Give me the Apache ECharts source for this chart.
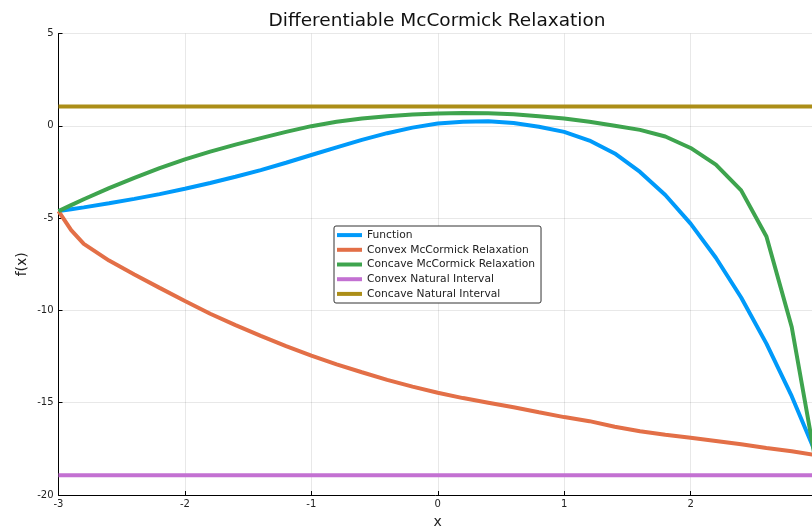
<!DOCTYPE html>
<html>
<head>
<meta charset="utf-8">
<title>Differentiable McCormick Relaxation</title>
<script src="https://cdn.jsdelivr.net/npm/echarts@6/dist/echarts.min.js"></script>
<style>
  html, body { margin: 0; padding: 0; background: #ffffff; }
  #chart { width: 812px; height: 527px; }
</style>
</head>
<body>
<div id="chart"></div>
<script>
// Sample points on x
const xs = [-3.0, -2.9, -2.8, -2.6, -2.4, -2.2, -2.0, -1.8, -1.6, -1.4, -1.2, -1.0,
            -0.8, -0.6, -0.4, -0.2, 0.0, 0.2, 0.4, 0.6, 0.8, 1.0,
            1.2, 1.4, 1.6, 1.8, 2.0, 2.2, 2.4, 2.6, 2.8, 3.0];

// Original function
const functionVals = [-4.62, -4.52, -4.42, -4.20, -3.96, -3.70, -3.41, -3.10, -2.76, -2.40, -2.00, -1.58,
                      -1.17, -0.76, -0.40, -0.10, 0.12, 0.22, 0.24, 0.15, -0.05, -0.33,
                      -0.80, -1.50, -2.50, -3.75, -5.30, -7.15, -9.30, -11.80, -14.65, -17.90];

// Convex McCormick relaxation (under-estimator)
const convexVals = [-4.62, -5.65, -6.40, -7.30, -8.05, -8.78, -9.49, -10.18, -10.80, -11.38, -11.93, -12.45,
                    -12.92, -13.35, -13.76, -14.13, -14.46, -14.75, -15.00, -15.25, -15.52, -15.78,
                    -16.00, -16.30, -16.55, -16.74, -16.90, -17.07, -17.25, -17.45, -17.63, -17.85];

// Concave McCormick relaxation (over-estimator)
const concaveVals = [-4.62, -4.30, -3.98, -3.38, -2.82, -2.29, -1.82, -1.40, -1.02, -0.67, -0.33, -0.02,
                     0.22, 0.40, 0.52, 0.61, 0.66, 0.70, 0.68, 0.62, 0.52, 0.40,
                     0.22, 0.00, -0.22, -0.58, -1.20, -2.10, -3.50, -6.00, -10.90, -18.60];

// Natural interval bounds (constant over the domain)
const intervalX = [-3, 3];
const convexNatural = [-18.93, -18.93];
const concaveNatural = [1.05, 1.05];

// Axis ticks
const xTicks = [-3, -2, -1, 0, 1, 2, 3];
const yTicks = [-20, -15, -10, -5, 0, 5];

const seriesNames = ['Function', 'Convex McCormick Relaxation', 'Concave McCormick Relaxation',
                     'Convex Natural Interval', 'Concave Natural Interval'];
const palette = ['#009AFA', '#E36F47', '#3EA44E', '#C371D2', '#AC8E18'];

const pairs = (x, y) => x.map((v, i) => [v, y[i]]);

const chart = echarts.init(document.getElementById('chart'), null, { renderer: 'canvas' });

const lineSeries = (name, data, color) => ({
  name: name,
  type: 'line',
  data: data,
  showSymbol: false,
  symbol: 'none',
  smooth: false,
  clip: true,
  lineStyle: { width: 4, color: color },
  itemStyle: { color: color },
  emphasis: { disabled: true }
});

const axisFont = { fontFamily: 'DejaVu Sans', fontSize: 10, color: '#222' };

chart.setOption({
  animation: false,
  backgroundColor: '#ffffff',
  color: palette,
  title: {
    text: 'Differentiable McCormick Relaxation',
    left: 432,
    top: 7,
    textAlign: 'center',
    textStyle: { fontFamily: 'DejaVu Sans', fontSize: 18.5, fontWeight: 'normal', color: '#111' }
  },
  grid: {
    left: 58.5, top: 33.5, width: 758.5, height: 461.5,
    containLabel: false,
    outerBoundsMode: 'none'
  },
  legend: {
    orient: 'vertical',
    left: 334,
    top: 226,
    icon: 'rect',
    itemWidth: 25,
    itemHeight: 4,
    itemGap: 2.5,
    padding: [3, 6, 3, 3],
    backgroundColor: '#ffffff',
    borderColor: '#333',
    borderWidth: 1,
    borderRadius: 2,
    selectedMode: false,
    textStyle: { fontFamily: 'DejaVu Sans', fontSize: 10.7, color: '#222', lineHeight: 12.2 },
    data: seriesNames
  },
  xAxis: {
    type: 'value',
    min: xTicks[0],
    max: xTicks[xTicks.length - 1],
    interval: 1,
    name: 'x',
    nameLocation: 'middle',
    nameGap: 20,
    nameMoveOverlap: false,
    nameTextStyle: { fontFamily: 'DejaVu Sans', fontSize: 14, color: '#222' },
    axisLine: { show: true, onZero: false, lineStyle: { color: '#000', width: 1 } },
    axisTick: { show: true, inside: true, length: 4, lineStyle: { color: '#000' } },
    axisLabel: { ...axisFont, margin: 4, showMaxLabel: true, showMinLabel: true },
    splitLine: { show: true, lineStyle: { color: 'rgba(0,0,0,0.09)', width: 1 } }
  },
  yAxis: {
    type: 'value',
    min: yTicks[0],
    max: yTicks[yTicks.length - 1],
    interval: 5,
    name: 'f(x)',
    nameLocation: 'middle',
    nameRotate: 90,
    nameGap: 29,
    nameMoveOverlap: false,
    nameTextStyle: { fontFamily: 'DejaVu Sans', fontSize: 14, color: '#222' },
    axisLine: { show: true, onZero: false, lineStyle: { color: '#000', width: 1 } },
    axisTick: { show: true, inside: true, length: 4, lineStyle: { color: '#000' } },
    axisLabel: { ...axisFont, margin: 5 },
    splitLine: { show: true, lineStyle: { color: 'rgba(0,0,0,0.09)', width: 1 } }
  },
  series: [
    lineSeries(seriesNames[0], pairs(xs, functionVals), palette[0]),
    lineSeries(seriesNames[1], pairs(xs, convexVals), palette[1]),
    lineSeries(seriesNames[2], pairs(xs, concaveVals), palette[2]),
    lineSeries(seriesNames[3], pairs(intervalX, convexNatural), palette[3]),
    lineSeries(seriesNames[4], pairs(intervalX, concaveNatural), palette[4])
  ]
});
</script>
</body>
</html>
